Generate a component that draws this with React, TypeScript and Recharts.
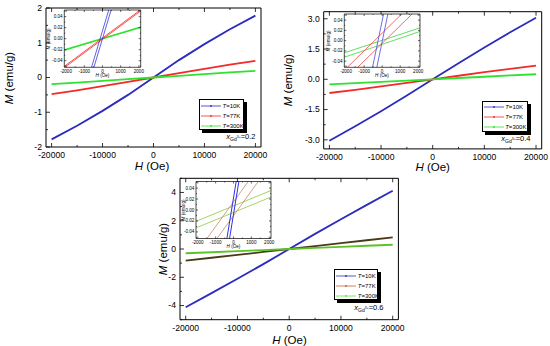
import React from 'react';
import { LineChart, Line, XAxis, YAxis } from 'recharts';

const FONT = '"Liberation Sans", Arial, Helvetica, sans-serif';
const PAGE_W = 550;
const PAGE_H = 346;

// main curves, field in Oe
const fieldH = [-20000, -15000, -10000, -5000, 0, 5000, 10000, 15000, 20000];

// x(Gd3+) = 0.2
const m02T10 = [-1.78, -1.39, -0.96, -0.5, 0, 0.5, 0.96, 1.39, 1.78];
const m02T77 = [-0.48, -0.37, -0.25, -0.125, 0, 0.125, 0.25, 0.37, 0.48];
const m02T300 = [-0.19, -0.145, -0.097, -0.049, 0, 0.049, 0.097, 0.145, 0.19];
// x(Gd3+) = 0.4
const m04T10 = [-3.05, -2.33, -1.58, -0.8, 0, 0.8, 1.58, 2.33, 3.05];
const m04T77 = [-0.68, -0.52, -0.35, -0.175, 0, 0.175, 0.35, 0.52, 0.68];
const m04T300 = [-0.25, -0.19, -0.125, -0.063, 0, 0.063, 0.125, 0.19, 0.25];
// x(Gd3+) = 0.6
const m06T10 = [-4.12, -3.12, -2.1, -1.07, 0, 1.07, 2.1, 3.12, 4.12];
const m06T77 = [-0.82, -0.62, -0.42, -0.21, 0, 0.21, 0.42, 0.62, 0.82];
const m06T300 = [-0.3, -0.23, -0.155, -0.078, 0, 0.078, 0.155, 0.23, 0.3];

// inset loops: each branch given at the two field ends
const loopH = [-2200, 2200];
const i02T10a = [-0.2277, 0.2563];
const i02T10b = [-0.242, 0.242];
const i02T77a = [-0.0527, 0.0551];
const i02T77b = [-0.0551, 0.0527];
const i02T300a = [-0.0218, 0.0218];

const i04T10a = [-0.3354, 0.4126];
const i04T10b = [-0.3759, 0.3721];
const i04T77a = [-0.0613, 0.0905];
const i04T77b = [-0.0811, 0.0707];
const i04T300a = [-0.0249, 0.0261];
const i04T300b = [-0.0336, 0.0192];

const i06T10a = [-0.418, 0.462];
const i06T10b = [-0.448, 0.432];
const i06T77a = [-0.0842, 0.1139];
const i06T77b = [-0.1094, 0.0887];
const i06T300a = [-0.022, 0.0369];
const i06T300b = [-0.034, 0.025];

// ticks
const xTicksMain = [-20000, -15000, -10000, -5000, 0, 5000, 10000, 15000, 20000];
const xTicksInset = [-2000, -1500, -1000, -500, 0, 500, 1000, 1500, 2000];
const yTicksInset = [-0.05, -0.04, -0.03, -0.02, -0.01, 0, 0.01, 0.02, 0.03, 0.04, 0.05];
const yTicks02 = [-2, -1.5, -1, -0.5, 0, 0.5, 1, 1.5, 2];
const yTicks04 = [-3, -2.25, -1.5, -0.75, 0, 0.75, 1.5, 2.25, 3];
const yTicks06 = [-5, -4, -3, -2, -1, 0, 1, 2, 3, 4, 5];

const temps = ['10K', '77K', '300K'];

type Box = { l: number; r: number; t: number; b: number };

const box02: Box = { l: 46, r: 261, t: 8, b: 147 };
const box04: Box = { l: 323.7, r: 541.7, t: 11.7, b: 148.9 };
const box06: Box = { l: 180, r: 398.4, t: 178.3, b: 319.7 };
const inset02: Box = { l: 64.3, r: 140.7, t: 10, b: 67.3 };
const inset04: Box = { l: 344.3, r: 420, t: 14, b: 67.3 };
const inset06: Box = { l: 196, r: 271, t: 181.5, b: 238.5 };

type TickOpts = {
    side: 'bottom' | 'left' | 'top' | 'right';
    major: number;
    len: number;
    minorLen: number;
    fmt?: (v: number) => string;
    font?: number;
    gap?: number;
    sw?: number;
};

const makeTick = (o: TickOpts) => (props: any) => {
    const { x, y, payload } = props;
    const v = payload.value;
    const q = v / o.major;
    const isMajor = Math.abs(q - Math.round(q)) < 1e-6;
    const len = isMajor ? o.len : o.minorLen;
    const sw = o.sw || 0.8;
    let line: React.ReactNode = null;
    let label: React.ReactNode = null;
    const fs = o.font || 9;
    const gap = o.gap || 0;
    if (o.side === 'bottom') {
        line = <line x1={x} y1={y} x2={x} y2={y - len} stroke="#000" strokeWidth={sw} />;
        if (isMajor && o.fmt) label = <text x={x} y={y + gap} textAnchor="middle" fontSize={fs} fontFamily={FONT} fill="#000">{o.fmt(v)}</text>;
    } else if (o.side === 'top') {
        line = <line x1={x} y1={y} x2={x} y2={y + len} stroke="#000" strokeWidth={sw} />;
    } else if (o.side === 'left') {
        line = <line x1={x} y1={y} x2={x + len} y2={y} stroke="#000" strokeWidth={sw} />;
        if (isMajor && o.fmt) label = <text x={x - gap} y={y + fs * 0.33} textAnchor="end" fontSize={fs} fontFamily={FONT} fill="#000">{o.fmt(v)}</text>;
    } else {
        line = <line x1={x} y1={y} x2={x - len} y2={y} stroke="#000" strokeWidth={sw} />;
    }
    return <g>{line}{label}</g>;
};

// axes take 1px each (recharts skips zero-size axes)
const margins = (b: Box) => ({ left: b.l - 1, top: b.t - 1, right: PAGE_W - b.r - 1, bottom: PAGE_H - b.b - 1 });

const overlay: React.CSSProperties = { position: 'absolute', left: 0, top: 0 };

type Series = { values: number[]; color: string; width?: number };

const MainPanel = ({ box, yDomain, yTicks, yMajor, yFmt, series }: {
    box: Box; yDomain: [number, number]; yTicks: number[]; yMajor: number; yFmt: (v: number) => string; series: Series[];
}) => {
    const rows = fieldH.map((h, i) => {
        const r: any = { h };
        series.forEach((s, k) => { r['s' + k] = s.values[i]; });
        return r;
    });
    const xDomain: [number, number] = [-21100, 21100];
    const axisLine = { stroke: '#000', strokeWidth: 1 };
    return (
        <div style={overlay}>
            <LineChart width={PAGE_W} height={PAGE_H} data={rows} margin={margins(box)}>
                <XAxis xAxisId="b" dataKey="h" type="number" domain={xDomain} ticks={xTicksMain} interval={0}
                    height={1} tickSize={0} tickMargin={0} tickLine={false} axisLine={axisLine}
                    tick={makeTick({ side: 'bottom', major: 10000, len: 4, minorLen: 2, fmt: (v) => String(v), font: 8.6, gap: 11.4 })} />
                <XAxis xAxisId="t" orientation="top" dataKey="h" type="number" domain={xDomain} ticks={xTicksMain} interval={0}
                    height={1} tickSize={0} tickMargin={0} tickLine={false} axisLine={axisLine}
                    tick={makeTick({ side: 'top', major: 10000, len: 4, minorLen: 2 })} />
                <YAxis yAxisId="l" type="number" domain={yDomain} ticks={yTicks} interval={0}
                    width={1} tickSize={0} tickMargin={0} tickLine={false} axisLine={axisLine}
                    tick={makeTick({ side: 'left', major: yMajor, len: 4, minorLen: 2, fmt: yFmt, font: 8.6, gap: 4 })} />
                <YAxis yAxisId="r" orientation="right" type="number" domain={yDomain} ticks={yTicks} interval={0}
                    width={1} tickSize={0} tickMargin={0} tickLine={false} axisLine={axisLine}
                    tick={makeTick({ side: 'right', major: yMajor, len: 4, minorLen: 2 })} />
                {series.map((s, k) => (
                    <Line key={k} xAxisId="b" yAxisId="l" dataKey={'s' + k} type="linear" stroke={s.color}
                        strokeWidth={s.width || 1.8} dot={false} isAnimationActive={false} />
                ))}
            </LineChart>
        </div>
    );
};

const InsetPanel = ({ box, branches }: { box: Box; branches: Series[] }) => {
    const xDomain: [number, number] = [-2100, 2100];
    const yDomain: [number, number] = [-0.052, 0.052];
    const axisLine = { stroke: '#000', strokeWidth: 0.7 };
    return (
        <>
            <div style={{ position: 'absolute', left: box.l, top: box.t, width: box.r - box.l, height: box.b - box.t, background: '#fff' }} />
            <div style={overlay}>
                <LineChart width={PAGE_W} height={PAGE_H} margin={margins(box)}>
                    <XAxis xAxisId="b" dataKey="h" type="number" domain={xDomain} allowDataOverflow ticks={xTicksInset} interval={0}
                        height={1} tickSize={0} tickMargin={0} tickLine={false} axisLine={axisLine}
                        tick={makeTick({ side: 'bottom', major: 1000, len: 2, minorLen: 1, fmt: (v) => String(v), font: 4.6, gap: 5.2, sw: 0.6 })} />
                    <XAxis xAxisId="t" orientation="top" dataKey="h" type="number" domain={xDomain} allowDataOverflow ticks={xTicksInset} interval={0}
                        height={1} tickSize={0} tickMargin={0} tickLine={false} axisLine={axisLine}
                        tick={makeTick({ side: 'top', major: 1000, len: 2, minorLen: 1, sw: 0.6 })} />
                    <YAxis yAxisId="l" type="number" domain={yDomain} allowDataOverflow ticks={yTicksInset} interval={0}
                        width={1} tickSize={0} tickMargin={0} tickLine={false} axisLine={axisLine}
                        tick={makeTick({ side: 'left', major: 0.02, len: 2, minorLen: 1, fmt: (v) => v.toFixed(2), font: 4.6, gap: 1.6, sw: 0.6 })} />
                    <YAxis yAxisId="r" orientation="right" type="number" domain={yDomain} allowDataOverflow ticks={yTicksInset} interval={0}
                        width={1} tickSize={0} tickMargin={0} tickLine={false} axisLine={axisLine}
                        tick={makeTick({ side: 'right', major: 0.02, len: 2, minorLen: 1, sw: 0.6 })} />
                    {branches.map((s, k) => (
                        <Line key={k} xAxisId="b" yAxisId="l" data={loopH.map((h, i) => ({ h, m: s.values[i] }))}
                            dataKey="m" type="linear" stroke={s.color} strokeWidth={s.width || 1}
                            dot={false} isAnimationActive={false} />
                    ))}
                </LineChart>
            </div>
        </>
    );
};

const Title = ({ cx, cy, rotate, size, children }: { cx: number; cy: number; rotate?: boolean; size: number; children: React.ReactNode }) => (
    <div style={{
        position: 'absolute', left: cx, top: cy, whiteSpace: 'nowrap', fontSize: size, fontFamily: FONT, lineHeight: 1,
        transform: `translate(-50%, -50%)${rotate ? ' rotate(-90deg)' : ''}`,
    }}>{children}</div>
);

const LegendBox = ({ left, top, width, colors, tag, tagRight, tagTop }: {
    left: number; top: number; width: number; colors: string[]; tag: string; tagRight: number; tagTop: number;
}) => (
    <>
        <div style={{
            position: 'absolute', left, top, width, height: 31, border: '1px solid #000', background: '#fff',
            boxShadow: '3px 3px 0 #000', boxSizing: 'border-box', fontFamily: FONT,
        }}>
            {temps.map((t, i) => (
                <div key={t} style={{ position: 'absolute', left: 1, top: 1.5 + i * 10, height: 8, display: 'flex', alignItems: 'center' }}>
                    <svg width={20} height={8} style={{ display: 'block' }}>
                        <line x1={0} y1={4} x2={20} y2={4} stroke={colors[i]} strokeWidth={0.8} />
                        <circle cx={10} cy={4} r={0.9} fill={colors[i]} />
                    </svg>
                    <span style={{ fontSize: 6, marginLeft: 1.5, color: '#000' }}><i>T</i>={t}</span>
                </div>
            ))}
        </div>
        <div style={{ position: 'absolute', right: PAGE_W - tagRight, top: tagTop, fontSize: 7.5, fontFamily: FONT, whiteSpace: 'nowrap', lineHeight: 1 }}>
            <i>x</i><sub style={{ fontSize: 5, verticalAlign: '-2px' }}>Gd<sup style={{ fontSize: 3.5 }}>3+</sup></sub>=0.{tag}
        </div>
    </>
);

const mTitle = (<><i>M</i> (emu/g)</>);
const hTitle = (<><i>H</i> (Oe)</>);

const BLUE = '#2b2bbd';
const RED = '#f22a2a';
const GREEN = '#2ee22e';

export default function App() {
    return (
        <div style={{ position: 'absolute', left: 0, top: 0, width: PAGE_W, height: PAGE_H, background: '#fff', fontFamily: FONT, overflow: 'hidden' }}>
            <MainPanel box={box02} yDomain={[-2, 2]} yTicks={yTicks02} yMajor={1} yFmt={(v) => String(v)}
                series={[{ values: m02T10, color: BLUE }, { values: m02T77, color: RED }, { values: m02T300, color: GREEN }]} />
            <MainPanel box={box04} yDomain={[-3.45, 3.35]} yTicks={yTicks04} yMajor={1.5} yFmt={(v) => v.toFixed(1)}
                series={[{ values: m04T10, color: BLUE }, { values: m04T77, color: RED }, { values: m04T300, color: GREEN }]} />
            <MainPanel box={box06} yDomain={[-5, 5]} yTicks={yTicks06} yMajor={2} yFmt={(v) => String(v)}
                series={[{ values: m06T10, color: BLUE }, { values: m06T77, color: '#4a3a18' }, { values: m06T300, color: '#5cc22a' }]} />

            <InsetPanel box={inset02} branches={[
                { values: i02T300a, color: GREEN, width: 1.6 },
                { values: i02T77a, color: RED, width: 0.8 }, { values: i02T77b, color: RED, width: 0.8 },
                { values: i02T10a, color: '#3a3ad8', width: 0.8 }, { values: i02T10b, color: '#3a3ad8', width: 0.8 },
            ]} />
            <InsetPanel box={inset04} branches={[
                { values: i04T300a, color: '#3ad83a', width: 0.8 }, { values: i04T300b, color: '#3ad83a', width: 0.8 },
                { values: i04T77a, color: '#f04848', width: 0.8 }, { values: i04T77b, color: '#f04848', width: 0.8 },
                { values: i04T10a, color: '#4a4ae0', width: 0.8 }, { values: i04T10b, color: '#4a4ae0', width: 0.8 },
            ]} />
            <InsetPanel box={inset06} branches={[
                { values: i06T300a, color: '#8ccc3c', width: 0.8 }, { values: i06T300b, color: '#8ccc3c', width: 0.8 },
                { values: i06T77a, color: '#c88a66', width: 0.8 }, { values: i06T77b, color: '#c88a66', width: 0.8 },
                { values: i06T10a, color: '#3030e0', width: 1 }, { values: i06T10b, color: '#3030e0', width: 1 },
            ]} />

            <Title cx={10} cy={77.5} rotate size={11.5}>{mTitle}</Title>
            <Title cx={152} cy={167} size={11.5}>{hTitle}</Title>
            <Title cx={288.5} cy={80} rotate size={11.5}>{mTitle}</Title>
            <Title cx={432.7} cy={168.4} size={11.5}>{hTitle}</Title>
            <Title cx={163.5} cy={249} rotate size={11.5}>{mTitle}</Title>
            <Title cx={289.5} cy={340.5} size={11.5}>{hTitle}</Title>

            <Title cx={102.5} cy={75.8} size={4.6}>{hTitle}</Title>
            <Title cx={49} cy={38.7} rotate size={4.6}>{mTitle}</Title>
            <Title cx={382} cy={75.8} size={4.6}>{hTitle}</Title>
            <Title cx={329} cy={40.7} rotate size={4.6}>{mTitle}</Title>
            <Title cx={233.5} cy={247} size={4.6}>{hTitle}</Title>
            <Title cx={183.5} cy={210} rotate size={4.6}>{mTitle}</Title>

            <LegendBox left={199} top={99} width={45} colors={[BLUE, RED, GREEN]} tag="2" tagRight={255.5} tagTop={133} />
            <LegendBox left={481.7} top={100.7} width={46} colors={[BLUE, RED, GREEN]} tag="4" tagRight={530.5} tagTop={134.5} />
            <LegendBox left={334.3} top={269.3} width={44} colors={[BLUE, '#c0603a', '#66dd44']} tag="6" tagRight={383.5} tagTop={303.5} />
        </div>
    );
}
